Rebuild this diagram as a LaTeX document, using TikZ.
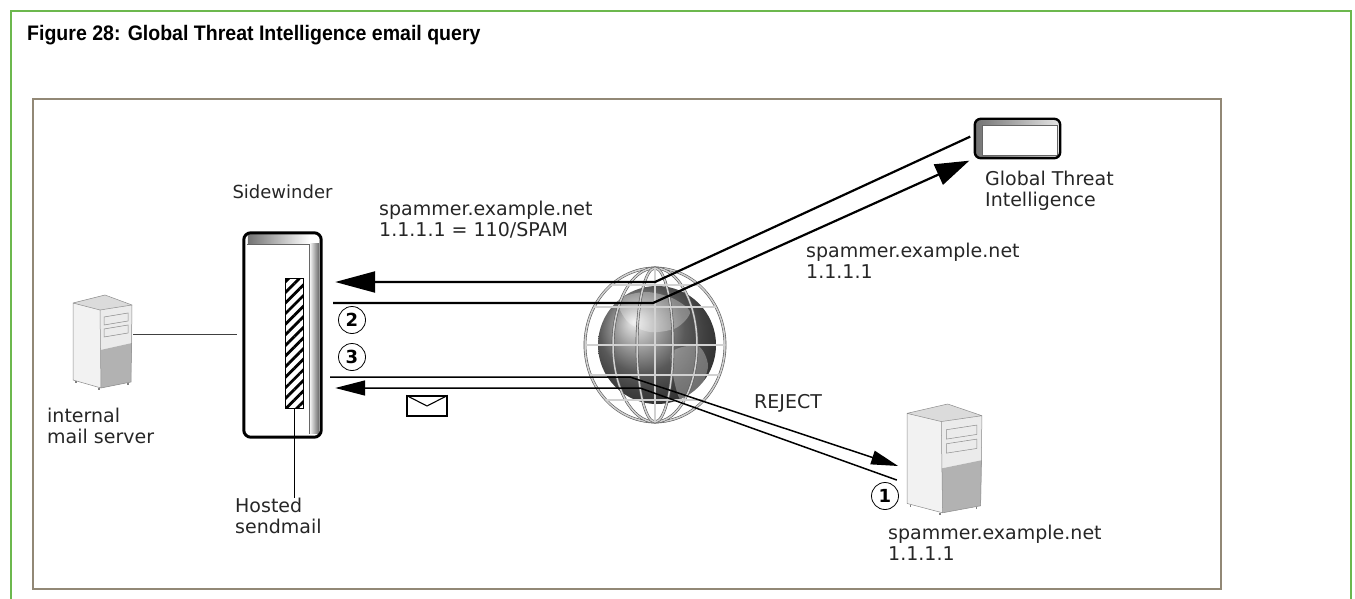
\documentclass[tikz,border=0pt]{standalone}
\usepackage{graphicx}
\usepackage{fontspec}
\setmainfont{DejaVu Sans}
\newfontfamily\headfont{Liberation Sans}
\usetikzlibrary{arrows.meta, positioning, patterns.meta}

\definecolor{framegreen}{RGB}{108,184,78}
\definecolor{framebrown}{RGB}{146,136,118}

\begin{document}
\begin{tikzpicture}[x=1pt, y=-1pt,
  lbl/.style={font=\fontsize{19}{21}\selectfont, text=black!85, align=left, inner sep=0pt, anchor=west},
  num/.style={circle, draw, line width=.8pt, inner sep=0pt, minimum size=27pt,
    font=\fontsize{18}{18}\selectfont\bfseries},
  wire/.style={draw=black!65, double=black!18, double distance=1.5pt, line width=.6pt},
  pipe/.style={line width=2.2pt},
  thinpipe/.style={line width=1.5pt},
  server/.pic={
    \fill[black!5] (0,8) -- (27,15) -- (28,93) -- (0,85) -- cycle;
    \fill[black!14] (0,8) -- (32,0) -- (59,10) -- (27,15) -- cycle;
    \fill[black!8] (27,15) -- (59,10) -- (59,48) -- (27.5,55) -- cycle;
    \fill[black!30] (27.5,55) -- (59,48) -- (58,87) -- (28,93) -- cycle;
    \draw[black!45, line width=.5pt] (0,8) -- (32,0) -- (59,10) -- (58,87) -- (28,93) -- (0,85) -- cycle
      (0,8) -- (27,15) -- (59,10) (27,15) -- (28,93);
    \draw[black!45, line width=.5pt] (31,22) -- (55,18) -- (55,26) -- (31,30) -- cycle
      (31,34) -- (55,30) -- (55,38) -- (31,42) -- cycle;
    \draw[black!50, line width=1.2pt] (3,86) -- (3,88) (26,93) -- (26,95) (55,88) -- (55,90);
    \coordinate (-port) at (60,39);
    \coordinate (-in) at (-7,53);
    \coordinate (-out) at (-8,65);
  }]

\useasboundingbox (0,0) rectangle (1355,599);
\draw[framegreen, line width=1.4pt] (11,600) -- (11,11) -- (1351,11) -- (1351,600);
\draw[framebrown, line width=2.4pt] (33,99) rectangle (1221,589);

\node[anchor=base west, inner sep=0pt] (title) at (27,41)
  {\scalebox{.93}[1]{\headfont\bfseries\fontsize{21}{22}\selectfont Figure 28: Global Threat Intelligence email query}};

% firewall
\node[minimum width=77pt, minimum height=204pt, inner sep=0pt] (sw) at (282.5,335) {};
\shade[left color=black!55, right color=white] ([shift={(4pt,-2pt)}]sw.north west) rectangle ([shift={(-12pt,-11pt)}]sw.north east);
\shade[left color=white, right color=black!60] ([shift={(-12pt,-11pt)}]sw.north east) rectangle ([shift={(-2pt,4pt)}]sw.south east);
\draw[black!60, line width=.6pt] ([shift={(3pt,-11pt)}]sw.north west) -- ([shift={(-12pt,-11pt)}]sw.north east) -- ([shift={(-12pt,3pt)}]sw.south east);
\draw[line width=3pt, rounded corners=7pt] (sw.north west) rectangle (sw.south east);
\node[font=\fontsize{18}{18}\selectfont, text=black!85, inner sep=0pt, above=34pt of sw] (swlbl) {Sidewinder};

\node[draw, line width=1pt, minimum width=18pt, minimum height=130pt, inner sep=0pt,
  pattern={Lines[angle=45, distance=7.5pt, line width=2.8pt]}] (smail) at (294,343) {};
\node[lbl] (hosted) at (235,516) {Hosted\\sendmail};
\draw[line width=.9pt] (smail.south) -- (smail.south |- hosted.north);

% internal server
\pic (mailsrv) at (73,295) {server};
\node[lbl] (mailsrvlbl) at (47,426) {internal\\mail server};
\draw[black!75, line width=1pt, shorten >=7pt] (mailsrv-port) -- (mailsrv-port -| sw.west);

% internet
\coordinate (earth) at (655,345);
\shade[ball color=black!50] ([xshift=2pt]earth) circle (59);
\fill[white, opacity=.3] plot[smooth cycle] coordinates {(618,300) (645,292) (672,298) (690,312) (676,328) (650,332) (628,322)};
\fill[white, opacity=.3] plot[smooth cycle] coordinates {(672,352) (698,346) (708,366) (698,392) (682,402) (674,380)};
\draw[wire] (earth) ellipse (70 and 77);
\draw[wire] (earth) ellipse (42 and 77);
\draw[wire] (earth) ellipse (18 and 77);
\draw[wire] (earth) ++(0,-77) -- ++(0,154);
\foreach \dy/\w in {-60/44, -38/61, 0/70, 30/64, 55/49}
  \draw[wire] (earth) ++(-\w,\dy) -- ++(2*\w,0);

% reputation service
\node[minimum width=85pt, minimum height=39pt, inner sep=0pt] (gti) at (1017.5,138.5) {};
\shade[rounded corners=6pt, left color=black!55, right color=black!10] (gti.north west) rectangle (gti.south east);
\fill[white] ([shift={(7pt,-6pt)}]gti.north west) rectangle ([shift={(-3pt,3pt)}]gti.south east);
\draw[black!60, line width=.5pt] ([shift={(7pt,-6pt)}]gti.north west) rectangle ([shift={(-3pt,3pt)}]gti.south east);
\draw[line width=2.4pt, rounded corners=6pt] (gti.north west) rectangle (gti.south east);
\node[lbl] (gtilbl) at (985,191) {Global Threat\\Intelligence};

% sender
\pic[xscale=1.27, yscale=1.17] (spam) at (907,404) {server};
\node[lbl] (spamlbl) at (888,542.5) {spammer.example.net\\1.1.1.1};

\coordinate (hub a) at (655,282);
\coordinate (hub b) at (653,303);
\coordinate (hub c) at (630,377);
\coordinate (hub d) at (640,388);

\draw[pipe, shorten <=12pt, shorten >=6pt, -{Triangle[length=34pt, width=22pt]}] (sw.east |- hub b) -- (hub b) -- (gti.south west);
\draw[pipe, shorten <=5pt, shorten >=14pt, -{Triangle[length=40pt, width=21pt]}] ([yshift=4pt]gti.west) -- (hub a) -- (sw.east |- hub a);
\draw[thinpipe, shorten <=9pt, -{Triangle[length=27pt, width=14pt]}] (sw.east |- hub c) -- (hub c) -- (spam-in);
\draw[thinpipe, shorten >=14pt, -{Triangle[length=30pt, width=15pt]}] (spam-out) -- (hub d) -- (sw.east |- hub d);

\node[lbl] (verdict) at (379,220) {spammer.example.net\\1.1.1.1 = 110/SPAM};
\node[lbl] (lookup) at (806,260.5) {spammer.example.net\\1.1.1.1};
\node[lbl] (reject) at (754,403) {REJECT};

\node[num] (s2) at (352,320) {2};
\node[num] (s3) at (352,357) {3};
\node[num] (s1) at (885,496) {1};

\node[draw, line width=1.1pt, minimum width=40pt, minimum height=20pt, inner sep=0pt] (mail) at (427,406) {};
\draw[line width=1.1pt] (mail.north west) -- (mail.center) -- (mail.north east);
\end{tikzpicture}
\end{document}
